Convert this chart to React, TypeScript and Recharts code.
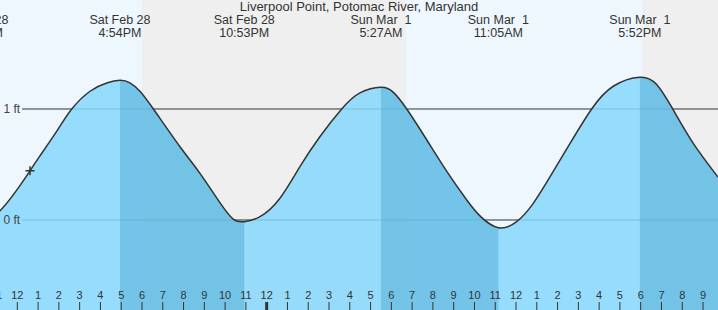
import React from 'react';
import {
  ComposedChart,
  Area,
  Line,
  XAxis,
  YAxis,
  ReferenceArea,
  ReferenceLine,
  ReferenceDot,
} from 'recharts';

// tide curve: hours from Sat Feb 28 00:00, feet
const hours = [
  10.1, 11.17, 12.61, 13.09, 13.9, 14.62, 15.5, 16.3, 16.94, 17.42, 17.9, 18.55, 19.83, 20.79,
  21.75, 22.4, 22.92, 23.68, 24.64, 25.6, 26.56, 27.61, 28.49, 29.5, 30.1, 30.74, 31.7, 32.66,
  33.63, 34.3, 35.15, 36.03, 36.83, 37.64, 38.6, 39.64, 40.68, 41.96, 42.77, 43.54, 44.53, 45.72,
];
const heights = [
  0.0, 0.084, 0.443, 0.578, 0.8, 1.0, 1.16, 1.235, 1.258, 1.235, 1.16, 1.0, 0.66, 0.42,
  0.156, 0.006, -0.015, 0.03, 0.196, 0.48, 0.75, 1.0, 1.145, 1.195, 1.15, 1.0, 0.723, 0.44,
  0.18, 0.03, -0.07, -0.015, 0.15, 0.39, 0.69, 1.0, 1.205, 1.286, 1.22, 1.0, 0.69, 0.386,
];

const highTimes = [16.94, 29.5, 41.96];
const lowTimes = [10.1, 22.92, 35.15];

const tideDates = ['Sat Feb 28', 'Sat Feb 28', 'Sat Feb 28', 'Sun Mar  1', 'Sun Mar  1', 'Sun Mar  1'];
const tideClock = ['10:06AM', '4:54PM', '10:53PM', '5:27AM', '11:05AM', '5:52PM'];
const tideTimes = [10.1, 16.94, 22.92, 29.5, 35.15, 41.96];

const nightStart = [18.0, 42.07];
const nightEnd = [30.7, 46];

const hourTicks = [
  11, 12, 13, 14, 15, 16, 17, 18, 19, 20, 21, 22, 23, 24, 25, 26, 27, 28, 29, 30, 31, 32, 33, 34,
  35, 36, 37, 38, 39, 40, 41, 42, 43, 44, 45,
];

const gridLevels = [1, 0];
const nowTime = 12.61;
const nowLevel = 0.443;

const X_MIN = 11.167;
const X_MAX = 45.72;
const Y_MIN = -0.811;
const Y_MAX = 1.982;
const GRID_START = 12.23;

const W = 718;
const H = 310;
const FONT = '"Liberation Sans", Arial, sans-serif';
const INK = '#333';
const CURVE = 'natural';

const isFalling = (t: number) =>
  highTimes.some((hi) => {
    const nextLow = lowTimes.find((lo) => lo > hi);
    return t >= hi && t <= (nextLow ?? Infinity);
  });

const rows = hours.map((t, i) => ({
  t,
  level: heights[i],
  fall: isFalling(t) ? heights[i] : null,
}));

const HourTick = (props: any) => {
  const { x, payload } = props;
  const h = payload.value % 12 === 0 ? 12 : payload.value % 12;
  const midnight = payload.value % 24 === 0;
  return (
    <g>
      <line x1={x} x2={x} y1={H - 8} y2={H} stroke={INK} strokeWidth={midnight ? 3 : 1} />
      <text x={x} y={H - 11} textAnchor="middle" fontSize={11} fill={INK} fontFamily={FONT}>
        {h}
      </text>
    </g>
  );
};

const Cross = (props: any) => {
  const { cx, cy } = props;
  return (
    <path
      d={`M${cx - 4.5},${cy}h9M${cx},${cy - 4.5}v9`}
      stroke={INK}
      strokeWidth={1.5}
      fill="none"
    />
  );
};

const tideLabel = (i: number) => (p: any) => {
  const x = p.viewBox.x;
  return (
    <g fontFamily={FONT} fontSize={12.5} fill={INK} textAnchor="middle">
      <text x={x} y={24} style={{ whiteSpace: 'pre' }}>
        {tideDates[i]}
      </text>
      <text x={x} y={37}>{tideClock[i]}</text>
    </g>
  );
};

export default function App() {
  return (
    <div style={{ position: 'absolute', left: 0, top: 0, width: W, height: H }}>
      <ComposedChart width={W} height={H} data={rows} margin={{ top: 0, right: 0, bottom: 0, left: 0 }}>
        <XAxis
          type="number"
          dataKey="t"
          domain={[X_MIN, X_MAX]}
          allowDataOverflow
          ticks={hourTicks}
          interval={0}
          mirror
          axisLine={false}
          tickLine={false}
          tick={<HourTick />}
          zIndex={500}
        />
        <YAxis type="number" hide domain={[Y_MIN, Y_MAX]} allowDataOverflow />
        <ReferenceArea
          x1={X_MIN}
          x2={X_MAX}
          y1={Y_MIN}
          y2={Y_MAX}
          fill="#eef7fe"
          fillOpacity={1}
          stroke="none"
          zIndex={-200}
        />
        {nightStart.map((s, i) => (
          <ReferenceArea
            key={`n${i}`}
            x1={s}
            x2={Math.min(nightEnd[i], X_MAX)}
            y1={Y_MIN}
            y2={Y_MAX}
            fill="#efefef"
            fillOpacity={1}
            stroke="none"
            zIndex={-150}
          />
        ))}
        {gridLevels.map((v) => (
          <ReferenceLine
            key={`g${v}`}
            segment={[
              { x: GRID_START, y: v },
              { x: X_MAX, y: v },
            ]}
            stroke={INK}
            strokeWidth={1}
            zIndex={50}
            label={{ value: `${v} ft`, position: 'left', offset: 2, fill: '#444', fontSize: 12, fontFamily: FONT }}
          />
        ))}
        <Area
          dataKey="level"
          type={CURVE}
          baseValue="dataMin"
          fill="#86d7fc"
          fillOpacity={0.85}
          stroke="none"
          isAnimationActive={false}
          zIndex={100}
        />
        <Area
          dataKey="fall"
          type={CURVE}
          baseValue="dataMin"
          fill="#4aa6d0"
          fillOpacity={0.45}
          stroke="none"
          isAnimationActive={false}
          zIndex={101}
        />
        <Line
          dataKey="level"
          type={CURVE}
          stroke={INK}
          strokeWidth={1.5}
          dot={false}
          isAnimationActive={false}
          zIndex={400}
        />
        <ReferenceDot x={nowTime} y={nowLevel} shape={Cross} zIndex={600} />
        {tideTimes.map((t, i) => (
          <ReferenceLine
            key={`t${i}`}
            x={t}
            stroke="none"
            ifOverflow="visible"
            label={{ content: tideLabel(i) }}
            zIndex={700}
          />
        ))}
      </ComposedChart>
      <div
        style={{
          position: 'absolute',
          left: 0,
          top: 0,
          width: W,
          textAlign: 'center',
          fontFamily: FONT,
          fontSize: 13,
          lineHeight: '13px',
          color: INK,
        }}
      >
        Liverpool Point, Potomac River, Maryland
      </div>
    </div>
  );
}
